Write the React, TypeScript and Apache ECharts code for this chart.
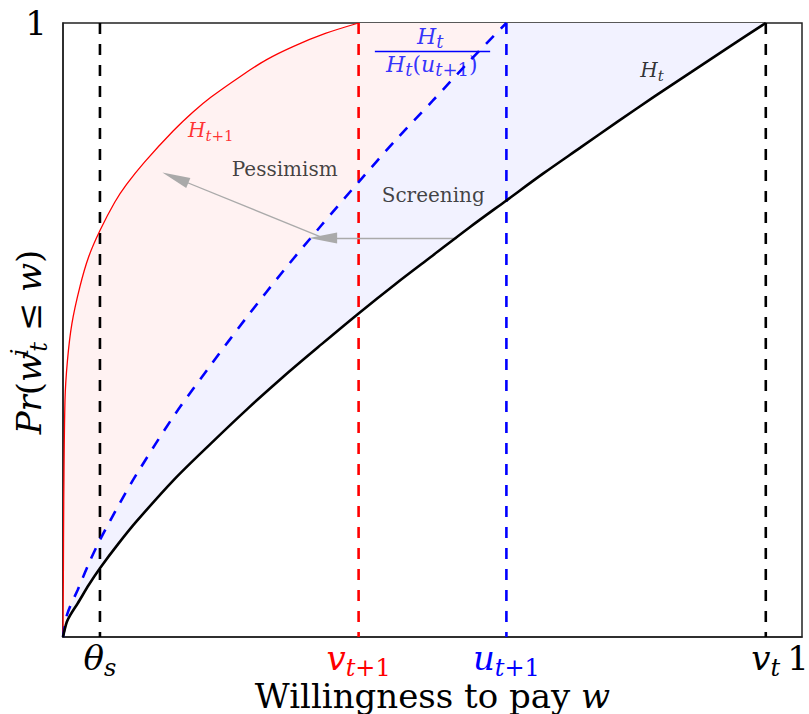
import React, { useEffect, useRef } from "react";
import * as echarts from "echarts";

// ---------------- data ----------------
// H_t : black solid curve
const W_T = [0, 0.005, 0.01, 0.02, 0.035, 0.05, 0.075, 0.1, 0.15, 0.2, 0.25, 0.3, 0.35, 0.4, 0.45, 0.5, 0.55, 0.6, 0.65, 0.7, 0.75, 0.8, 0.85, 0.9, 0.951];
const H_T = [0, 0.024, 0.036, 0.055, 0.085, 0.112, 0.152, 0.189, 0.256, 0.315, 0.372, 0.426, 0.477, 0.527, 0.575, 0.621, 0.667, 0.711, 0.755, 0.797, 0.839, 0.88, 0.92, 0.96, 1];
// H_t / H_t(u_{t+1}) : blue dashed curve
const W_S = [0, 0.005, 0.01, 0.02, 0.035, 0.05, 0.075, 0.1, 0.15, 0.2, 0.25, 0.3, 0.35, 0.4, 0.45, 0.5, 0.55, 0.6];
const H_S = [0, 0.034, 0.051, 0.077, 0.12, 0.158, 0.214, 0.266, 0.36, 0.443, 0.523, 0.599, 0.671, 0.741, 0.809, 0.873, 0.938, 1];
// H_{t+1} : red thin curve
const W_N = [0, 0.0005, 0.001, 0.0027, 0.006, 0.012, 0.023, 0.035, 0.05, 0.07, 0.086, 0.11, 0.149, 0.176, 0.2, 0.24, 0.275, 0.312, 0.355, 0.4];
const H_N = [0, 0.1, 0.22, 0.386, 0.45, 0.51, 0.571, 0.62, 0.662, 0.708, 0.737, 0.773, 0.824, 0.855, 0.879, 0.913, 0.94, 0.962, 0.983, 1];

// cut-offs: theta_s, v_{t+1}, u_{t+1}, v_t
const CUTOFFS = [0.05, 0.4, 0.6, 0.951];

// tick labels
const X_TICKS = [0.05, 0.4, 0.6, 0.951, 1];
const X_TICK_MAIN = ["θ", "v", "u", "v", "1"];
const X_TICK_SUB = ["s", "t+1", "t+1", "t", ""];
const Y_TICKS = [1];
const Y_TICK_LABELS = ["1"];

// annotations (data coordinates)
const NOTE_MAIN = ["H", "Pessimism", "Screening", "H"];
const NOTE_SUB = ["t+1", "", "", "t"];
const NOTE_AT = [[0.2, 0.823], [0.3, 0.76], [0.501, 0.717], [0.797, 0.921]];
const FRAC_NUM_AT = [0.497, 0.975];
const FRAC_DEN_AT = [0.499, 0.93];
const FRAC_BAR = [[0.422, 0.9535], [0.578, 0.9535]];
const ARROWS = [
  [[0.352, 0.65], [0.152, 0.748]],
  [[0.533, 0.65], [0.352, 0.65]],
];

// ---------------- styles ----------------
const FONT = "DejaVu Serif";
const RED = "#ff0000";
const BLUE = "#0000ff";
const BLACK = "#000000";
const X_TICK_COLORS = [BLACK, RED, BLUE, BLACK, BLACK];
const CUTOFF_COLORS = [BLACK, RED, BLUE, BLACK];
const NOTE_COLORS = [RED, "#111111", "#111111", BLACK];

const isLetter = (c: string) => /[A-Za-zθ]/.test(c);

function mathStr(s: string, pre: string, kind: "b" | "s") {
  if (!s) return "";
  const runs = s.match(/[A-Za-zθ]+|[^A-Za-zθ]+/g) || [];
  return runs.map((r) => `{${pre}${kind}${isLetter(r[0]) ? "i" : "n"}|${r}}`).join("");
}

function richSet(pre: string, color: string, base: number, sub: number, raise: number) {
  const mk = (size: number, italic: boolean, padB: number) => ({
    fontFamily: FONT,
    fontSize: size,
    fontStyle: italic ? "italic" : "normal",
    color,
    verticalAlign: "bottom",
    padding: [0, 0, padB, 0],
  });
  return {
    [pre + "bi"]: mk(base, true, raise),
    [pre + "bn"]: mk(base, false, raise),
    [pre + "si"]: mk(sub, true, 0),
    [pre + "sn"]: mk(sub, false, 0),
  };
}

function labelFor(main: string, sub: string, pre: string) {
  const isWord = main.length > 1 && !sub;
  const m = isWord ? `{${pre}bn|${main}}` : mathStr(main, pre, "b");
  return m + mathStr(sub, pre, "s");
}

export default function App() {
  const ref = useRef<HTMLDivElement>(null);

  useEffect(() => {
    document.body.style.margin = "0";
    const chart = echarts.init(ref.current!, null, { renderer: "svg" });

    const curveT = W_T.map((w, i) => [w, H_T[i]]);
    const curveS = W_S.map((w, i) => [w, H_S[i]]);
    const curveN = W_N.map((w, i) => [w, H_N[i]]);
    const uNext = W_S[W_S.length - 1];
    const vT = W_T[W_T.length - 1];

    const pinkPoly = [...curveN, [uNext, 1], ...curveS.slice().reverse()];
    const bluePoly = [...curveS, [vT, 1], ...curveT.slice().reverse()];

    let xRich: any = {};
    X_TICKS.forEach((_, i) => {
      xRich = { ...xRich, ...richSet("x" + i, X_TICK_COLORS[i], 34, 24, 5) };
    });
    // plain numeral at the right end, nudged inward from the edge
    xRich.xend = {
      fontFamily: FONT,
      fontSize: 34,
      color: BLACK,
      verticalAlign: "bottom",
      padding: [0, 8, 5, 0],
    };

    const yNameRich: any = {
      ...richSet("y", BLACK, 34, 24, 5),
      yup: {
        fontFamily: FONT,
        fontSize: 24,
        fontStyle: "italic",
        color: BLACK,
        verticalAlign: "bottom",
        padding: [0, 0, 19, 0],
        width: 1,
      },
      yend: {
        fontFamily: FONT,
        fontSize: 34,
        color: BLACK,
        verticalAlign: "bottom",
        padding: [0, 24, 5, 0],
      },
    };

    const xNameRich: any = richSet("n", BLACK, 34, 24, 0);

    const noteData = NOTE_MAIN.map((m, i) => ({
      value: NOTE_AT[i],
      label: {
        show: true,
        position: "inside",
        formatter: labelFor(m, NOTE_SUB[i], "a"),
        rich: richSet("a", NOTE_COLORS[i], 20, 15, 3),
      },
    }));
    const fracRich = richSet("f", BLUE, 22, 18, 3);
    const fracData = [
      {
        value: FRAC_NUM_AT,
        label: {
          show: true,
          position: "inside",
          formatter: labelFor("H", "t", "f"),
          rich: fracRich,
        },
      },
      {
        value: FRAC_DEN_AT,
        label: {
          show: true,
          position: "inside",
          formatter: mathStr("H", "f", "b") + mathStr("t", "f", "s") + `{fbn|(}` + mathStr("u", "f", "b") + mathStr("t+1", "f", "s") + `{fbn|)}`,
          rich: fracRich,
        },
      },
    ];

    const lineBase = { type: "line", silent: true, showSymbol: false };

    const option: any = {
      animation: false,
      grid: {
        left: 63,
        right: 7,
        top: 23,
        bottom: 77,
        show: true,
        borderColor: "#222",
        borderWidth: 1.5,
        backgroundColor: "transparent",
        containLabel: false,
        outerBoundsMode: "none",
      },
      xAxis: {
        type: "value",
        min: 0,
        max: 1,
        axisLine: { show: true, lineStyle: { color: "#222", width: 1.5 } },
        axisTick: { show: false },
        splitLine: { show: false },
        axisLabel: {
          customValues: X_TICKS,
          margin: 4,
          formatter: (val: number) => {
            const i = X_TICKS.findIndex((v) => Math.abs(v - val) < 1e-6);
            if (i < 0) return "";
            if (!X_TICK_SUB[i]) return `{xend|${X_TICK_MAIN[i]}}`;
            return labelFor(X_TICK_MAIN[i], X_TICK_SUB[i], "x" + i);
          },
          rich: xRich,
        },
        name: "{nbn|Willingness to pay }{nbi|w}",
        nameLocation: "middle",
        nameGap: 42,
        nameMoveOverlap: false,
        nameTextStyle: { rich: xNameRich },
      },
      yAxis: {
        type: "value",
        min: 0,
        max: 1,
        axisLine: { show: true, lineStyle: { color: "#222", width: 1.5 } },
        axisTick: { show: false },
        splitLine: { show: false },
        axisLabel: {
          customValues: Y_TICKS,
          margin: 16,
          formatter: (val: number) => {
            const i = Y_TICKS.findIndex((v) => Math.abs(v - val) < 1e-6);
            return i < 0 ? "" : Y_TICK_LABELS[i];
          },
          fontFamily: FONT,
          fontSize: 34,
          color: BLACK,
        },
        name: "{ybi|Pr}{ybn|(}{ybi|w}{yup|i}{ysi|t}{ybn| ≤ }{ybi|w}{yend|)}",
        nameLocation: "middle",
        nameRotate: 90,
        nameGap: 12,
        nameMoveOverlap: false,
        nameTextStyle: { rich: yNameRich },
      },
      series: [
        {
          type: "custom",
          coordinateSystem: "cartesian2d",
          silent: true,
          z: 1,
          data: [[0, 0]],
          renderItem: (_p: any, api: any) => ({
            type: "polygon",
            shape: { points: pinkPoly.map((p) => api.coord(p)) },
            style: { fill: "#fff2f2" },
          }),
        },
        {
          type: "custom",
          coordinateSystem: "cartesian2d",
          silent: true,
          z: 1,
          data: [[0, 0]],
          renderItem: (_p: any, api: any) => ({
            type: "polygon",
            shape: { points: bluePoly.map((p) => api.coord(p)) },
            style: { fill: "#f2f2ff" },
          }),
        },
        ...CUTOFFS.map((x, i) => ({
          ...lineBase,
          z: 3,
          data: [[x, 1], [x, 0]],
          lineStyle: { color: CUTOFF_COLORS[i], width: 2.6, type: [11, 10] },
        })),
        {
          ...lineBase,
          z: 4,
          smooth: 0.3,
          data: curveN,
          lineStyle: { color: RED, width: 1.3 },
        },
        {
          ...lineBase,
          z: 4,
          smooth: 0.3,
          data: curveS,
          lineStyle: { color: BLUE, width: 2.6, type: [11, 10] },
        },
        {
          ...lineBase,
          z: 5,
          smooth: 0.3,
          data: curveT,
          lineStyle: { color: BLACK, width: 2.6 },
        },
        {
          ...lineBase,
          z: 6,
          data: [],
          markLine: {
            silent: true,
            symbol: ["none", "triangle"],
            symbolSize: [11, 28],
            label: { show: false },
            lineStyle: { color: "#aaaaaa", width: 1.3, type: "solid" },
            itemStyle: { color: "#aaaaad" },
            data: ARROWS.map(([a, b]) => [{ coord: a }, { coord: b }]),
          },
        },
        {
          ...lineBase,
          z: 6,
          data: [],
          markLine: {
            silent: true,
            symbol: ["none", "none"],
            label: { show: false },
            lineStyle: { color: BLUE, width: 1.4, type: "solid" },
            data: [[{ coord: FRAC_BAR[0] }, { coord: FRAC_BAR[1] }]],
          },
        },
        {
          type: "scatter",
          silent: true,
          z: 7,
          symbolSize: 0,
          itemStyle: { color: "transparent" },
          data: [...noteData, ...fracData],
        },
      ],
    };

    chart.setOption(option);
    return () => chart.dispose();
  }, []);

  return <div ref={ref} style={{ width: 809, height: 714 }} />;
}
